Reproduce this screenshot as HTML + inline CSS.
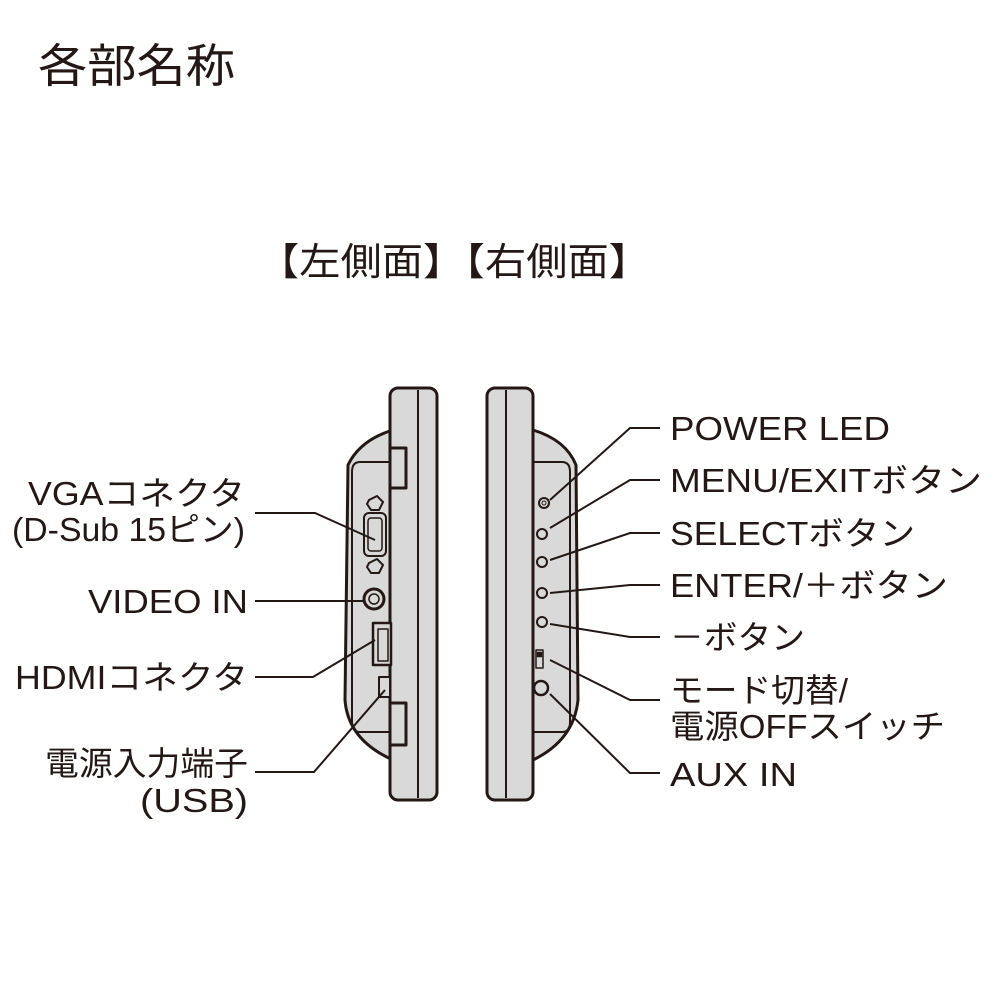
<!DOCTYPE html>
<html><head><meta charset="utf-8"><style>
html,body{margin:0;padding:0;background:#fff;}
svg{display:block}
text{font-family:"Liberation Sans","Noto Sans CJK JP",sans-serif;fill:#231815;}
</style></head><body>
<svg width="1000" height="1000" viewBox="0 0 1000 1000" xmlns="http://www.w3.org/2000/svg">
<text x="38" y="82" font-size="46" textLength="197" lengthAdjust="spacingAndGlyphs">各部名称</text>
<text x="258" y="275" font-size="38" textLength="392" lengthAdjust="spacingAndGlyphs">【左側面】【右側面】</text>

<g stroke="#231815" stroke-width="3" fill="#d9d9d9" stroke-linejoin="round">
 <path d="M393 430 Q360 440 348 465 L345 700 Q348 740 393 760 Z"/>
 <path d="M393 462 L360 462 Q352 462 352 472 L352 722 Q352 732 360 732 L393 732" fill="none" stroke-width="2"/>
 <rect x="390" y="388" width="47" height="412" rx="8"/>
 <line x1="418" y1="390" x2="418" y2="798" stroke-width="2"/>
 <rect x="390" y="448" width="16" height="40" fill="#d9d9d9"/>
 <rect x="390" y="703" width="16" height="42" fill="#d9d9d9"/>
 <polygon points="369,500 377,496 383,502 379,510 371,510 367,504" stroke-width="2"/>
 <rect x="364" y="513" width="22" height="43" rx="5" stroke-width="2"/>
 <rect x="368" y="518" width="14" height="33" rx="3" stroke-width="1.5"/>
 <polygon points="369,563 377,559 383,565 379,573 371,573 367,567" stroke-width="2"/>
 <circle cx="374" cy="599" r="10" stroke-width="3"/>
 <circle cx="374" cy="599" r="5" stroke-width="1.5"/>
 <rect x="373" y="623" width="18" height="42" stroke-width="2.5"/>
 <rect x="378" y="629" width="10" height="32" stroke-width="1.5"/>
 <rect x="379" y="677" width="11" height="20" stroke-width="2"/>
 <path d="M533 430 Q566 440 576 465 L578 700 Q574 740 533 760 Z"/>
 <path d="M533 462 L562 462 Q570 462 570 472 L570 722 Q570 732 562 732 L533 732" fill="none" stroke-width="2"/>
 <rect x="487" y="388" width="46" height="412" rx="8"/>
 <line x1="506" y1="390" x2="506" y2="798" stroke-width="2"/>
 <circle cx="544" cy="503" r="5" stroke-width="2"/>
 <circle cx="544" cy="503" r="2" stroke-width="1"/>
 <circle cx="542" cy="534" r="5" stroke-width="2"/>
 <circle cx="542" cy="562" r="5" stroke-width="2"/>
 <circle cx="542" cy="593" r="5" stroke-width="2"/>
 <circle cx="542" cy="622" r="5" stroke-width="2"/>
 <rect x="536" y="650" width="7" height="18" stroke-width="1.5"/>
 <rect x="537" y="652" width="5" height="5" fill="#231815" stroke-width="0.5"/>
 <circle cx="541" cy="688" r="7" stroke-width="2.5"/>
</g>

<g stroke="#231815" stroke-width="2" fill="none">
 <polyline points="255,513 315,513 375,540"/>
 <polyline points="255,601 363,601"/>
 <polyline points="255,677 313,677 375,640"/>
 <polyline points="255,772 314,772 385,690"/>
 <polyline points="660,428 630,428 550,500"/>
 <polyline points="660,480 630,480 550,528"/>
 <polyline points="660,533 630,533 550,560"/>
 <polyline points="660,585 630,585 550,593"/>
 <polyline points="660,637 630,637 550,624"/>
 <polyline points="660,700 630,700 550,660"/>
 <polyline points="660,773 630,773 550,694"/>
</g>

<g font-size="33">
 <text x="28" y="505" textLength="217" lengthAdjust="spacingAndGlyphs">VGAコネクタ</text>
 <text x="12" y="541" textLength="233" lengthAdjust="spacingAndGlyphs">(D-Sub 15ピン)</text>
 <text x="88" y="613" textLength="160" lengthAdjust="spacingAndGlyphs">VIDEO IN</text>
 <text x="15" y="689" textLength="233" lengthAdjust="spacingAndGlyphs">HDMIコネクタ</text>
 <text x="45" y="775" textLength="203" lengthAdjust="spacingAndGlyphs">電源入力端子</text>
 <text x="140" y="812" textLength="108" lengthAdjust="spacingAndGlyphs">(USB)</text>
 <text x="670" y="440" textLength="220" lengthAdjust="spacingAndGlyphs">POWER LED</text>
 <text x="670" y="492" textLength="312" lengthAdjust="spacingAndGlyphs">MENU/EXITボタン</text>
 <text x="670" y="545" textLength="245" lengthAdjust="spacingAndGlyphs">SELECTボタン</text>
 <text x="670" y="597" textLength="278" lengthAdjust="spacingAndGlyphs">ENTER/＋ボタン</text>
 <text x="670" y="649" textLength="135" lengthAdjust="spacingAndGlyphs">－ボタン</text>
 <text x="670" y="702" textLength="178" lengthAdjust="spacingAndGlyphs">モード切替/</text>
 <text x="670" y="738" textLength="275" lengthAdjust="spacingAndGlyphs">電源OFFスイッチ</text>
 <text x="670" y="786" textLength="127" lengthAdjust="spacingAndGlyphs">AUX IN</text>
</g>
</svg>
</body></html>
